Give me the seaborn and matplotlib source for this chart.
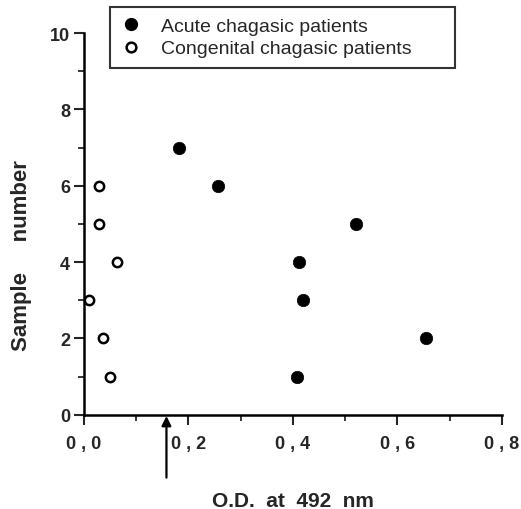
import seaborn as sns
import matplotlib.pyplot as plt
from matplotlib.lines import Line2D
from matplotlib.ticker import MultipleLocator
import pandas as pd

# O.D. values
acute_od = [0.407, 0.655, 0.42, 0.412, 0.521, 0.257, 0.182]
acute_sample = [1, 2, 3, 4, 5, 6, 7]
congenital_od = [0.050, 0.036, 0.010, 0.064, 0.029, 0.029]
congenital_sample = [1, 2, 3, 4, 5, 6]
cutoff = 0.158

x_ticks = [0.0, 0.2, 0.4, 0.6, 0.8]
x_ticklabels = ["0 , 0", "0 , 2", "0 , 4", "0 , 6", "0 , 8"]
y_ticks = [0, 2, 4, 6, 8, 10]
legend_labels = ["Acute chagasic patients", "Congenital chagasic patients      "]

acute = pd.DataFrame({"od": acute_od, "sample": acute_sample})
congenital = pd.DataFrame({"od": congenital_od, "sample": congenital_sample})

sns.set_style("white")
plt.rcParams['font.family'] = ['Liberation Sans', 'DejaVu Sans']

fig = plt.figure(figsize=(5.21, 5.10), dpi=100)
ax = fig.add_axes([0.161, 0.185, 0.8025, 0.748])

sns.scatterplot(data=acute, x="od", y="sample", ax=ax, s=80,
                color="black", edgecolor="black", linewidth=0.5)
sns.scatterplot(data=congenital, x="od", y="sample", ax=ax, s=45,
                facecolor="white", edgecolor="black", linewidth=1.8)

ax.set_xlim(0, 0.8)
ax.set_ylim(0, 10)
ax.set_xticks(x_ticks)
ax.set_xticklabels(x_ticklabels)
ax.set_yticks(y_ticks)
ax.xaxis.set_minor_locator(MultipleLocator(0.1))
ax.yaxis.set_minor_locator(MultipleLocator(1))
ax.tick_params(axis="x", which="major", direction="out", length=7, width=1.5,
               pad=8, bottom=True)
ax.tick_params(axis="y", which="major", direction="out", length=7, width=1.5,
               pad=3, left=True)
ax.tick_params(which="minor", direction="out", length=4, width=1.3,
               bottom=True, left=True)
for lab in ax.get_xticklabels() + ax.get_yticklabels():
    lab.set_fontweight("bold")
    lab.set_fontsize(13)

sns.despine(ax=ax)
for side in ["left", "bottom"]:
    ax.spines[side].set_linewidth(1.8)
    ax.spines[side].set_color("black")

ax.set_xlabel("O.D.  at  492  nm", fontsize=15, fontweight="bold", labelpad=28)
ax.set_ylabel("Sample     number", fontsize=16, fontweight="bold")
ax.yaxis.set_label_coords(-0.125, 0.42)

# cut-off arrow below the axis
ax.annotate("", xy=(cutoff, 0), xycoords=("data", "axes fraction"),
            xytext=(cutoff, -0.165), textcoords=("data", "axes fraction"),
            arrowprops=dict(arrowstyle="-|>", color="black", lw=1.6,
                            mutation_scale=14, shrinkA=0, shrinkB=1),
            annotation_clip=False)

handles = [
    Line2D([], [], marker="o", linestyle="", markersize=8.5,
           markerfacecolor="black", markeredgecolor="black"),
    Line2D([], [], marker="o", linestyle="", markersize=7,
           markerfacecolor="white", markeredgecolor="black", markeredgewidth=1.8),
]
leg = fig.legend(handles, legend_labels,
                 loc="upper left", bbox_to_anchor=(0.211, 0.985),
                 bbox_transform=fig.transFigure, fontsize=14, frameon=True,
                 fancybox=False, handletextpad=1.0, borderpad=0.55,
                 labelspacing=0.25, handlelength=1.1, borderaxespad=0)
leg.get_frame().set_edgecolor("black")
leg.get_frame().set_linewidth(1.5)

fig.savefig("out.png", dpi=100)
